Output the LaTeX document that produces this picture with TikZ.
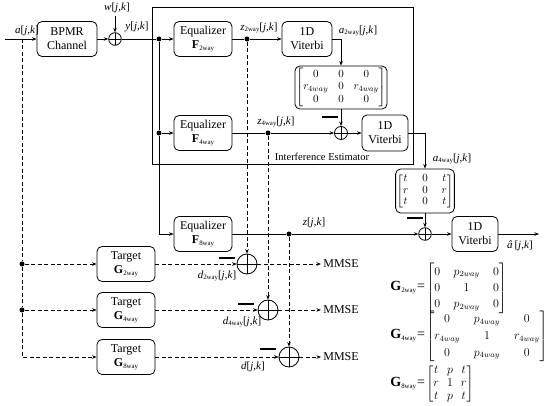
\documentclass[tikz,border=0pt]{standalone}
\usepackage{fontspec}
\setmainfont{Liberation Serif}
\usepackage{amsmath}
\usetikzlibrary{arrows.meta,calc}
\newcommand\jk{[\textit{j},\textit{k}]}
\newcommand\wy[1]{\raisebox{-0.3ex}{\fontsize{6.8}{7}\selectfont #1way}}
\begin{document}
\begin{tikzpicture}[x=1pt,y=-1pt,line width=0.8pt,
  every node/.style={font=\fontsize{12}{14}\selectfont},
  arr/.style={-{Stealth[length=4.5pt,width=3.5pt]}},
  dsh/.style={dash pattern=on 4pt off 2.5pt},
  blk/.style={draw,rounded corners=5pt,align=center,inner sep=1pt},
  mbox/.style={draw,rounded corners=5pt,inner sep=1pt,font=\fontsize{11}{12.5}\selectfont},
  dot/.style={circle,fill,inner sep=0pt,minimum size=5pt},
  sumc/.style={draw,circle,inner sep=0pt,minimum size=#1,
    path picture={\draw[line width=0.8pt] (path picture bounding box.north) -- (path picture bounding box.south)
      (path picture bounding box.west) -- (path picture bounding box.east);}},
  lbl/.style={inner sep=0pt,font=\fontsize{11}{12}\selectfont},
  geq/.style={anchor=west,inner sep=0pt,font=\fontsize{14}{16}\selectfont},
  minusbar/.style={line width=2.4pt}]
\useasboundingbox (0,0) rectangle (550,406);

% interference estimator frame
\draw (152,7) rectangle (413,164);
\node[lbl,font=\fontsize{10.5}{12}\selectfont] (iel) at (322,157) {Interference Estimator};

% top row
\coordinate (in) at (5,39);
\coordinate (ain) at (22,39);
\node[lbl] (al) at (27,31) {\textit{a}\jk};
\node[blk,minimum width=60,minimum height=35] (bpmr) at (67,39) {BPMR\\Channel};
\node[sumc=12.6] (s1) at (115,39) {};
\coordinate (wtop) at (115,16);
\node[lbl] (wl) at (117,8) {\textit{w}\jk};
\node[lbl] (yl) at (137,27) {\textit{y}\jk};
\node[dot] (d0) at (159,39) {};
\node[blk,minimum width=58,minimum height=35] (eq2) at (203,39) {Equalizer\\\textbf{F}\wy{2}};
\node[dot] (dz2) at (247,39) {};
\node[lbl] (z2l) at (259,28) {\textit{z}\wy{2}\jk};
\node[blk,minimum width=50,minimum height=35] (vit1) at (307,39) {1D\\Viterbi};
\coordinate (c1) at (341,39);
\node[lbl] (a2l) at (358,31) {\textit{a}\wy{2}\jk};
\node[mbox,minimum width=90,minimum height=43] (m1) at (341,87.5)
  {$\begin{bmatrix}0&0&0\\ r_{4way}&0&r_{4way}\\ 0&0&0\end{bmatrix}$};

% second row
\node[dot] (d1) at (159,133) {};
\node[blk,minimum width=58,minimum height=35] (eq4) at (203,133) {Equalizer\\\textbf{F}\wy{4}};
\node[dot] (dz4) at (268,133) {};
\node[lbl] (z4l) at (276,122) {\textit{z}\wy{4}\jk};
\node[sumc=13] (s2) at (341,133) {};
\node[blk,minimum width=46,minimum height=36] (vit2) at (385,133) {1D\\Viterbi};
\coordinate (c2) at (425,133);
\node[lbl] (a4l) at (452,159) {\textit{a}\wy{4}\jk};
\node[mbox,minimum width=57,minimum height=44] (m2) at (425,191)
  {$\setlength\arraycolsep{7pt}\renewcommand\arraystretch{0.9}\begin{bmatrix}t&0&t\\ r&0&r\\ t&0&t\end{bmatrix}$};

% third row
\coordinate (c3) at (159,234);
\node[blk,minimum width=58,minimum height=35] (eq8) at (203,234) {Equalizer\\\textbf{F}\wy{8}};
\node[dot] (dz) at (289,234) {};
\node[lbl] (zl) at (314,223) {\textit{z}\jk};
\node[sumc=12.6] (s3) at (425,234) {};
\node[blk,minimum width=46,minimum height=35] (vit3) at (475,234) {1D\\Viterbi};
\coordinate (out) at (539,234);
\node[lbl] (ahl) at (520,246) {\textit{â}\,\jk};

% targets
\node[dot] (ld2) at (22,264) {};
\node[dot] (ld4) at (22,310) {};
\coordinate (lc) at (22,357);
\node[blk,minimum width=58,minimum height=35] (tg2) at (126,264) {Target\\\textbf{G}\wy{2}};
\node[blk,minimum width=58,minimum height=35] (tg4) at (126,310) {Target\\\textbf{G}\wy{4}};
\node[blk,minimum width=58,minimum height=35] (tg8) at (126,357) {Target\\\textbf{G}\wy{8}};
\node[sumc=20] (sd2) at (247,264) {};
\node[sumc=20] (sd4) at (268,310) {};
\node[sumc=20] (sd8) at (289,357) {};
\node[lbl] (d2l) at (217,276) {\textit{d}\wy{2}\jk};
\node[lbl] (d4l) at (242,322) {\textit{d}\wy{4}\jk};
\node[lbl] (dl) at (253,367) {\textit{d}\jk};
\node[anchor=west,inner sep=2pt] (mm1) at (321,264) {MMSE};
\node[anchor=west,inner sep=2pt] (mm2) at (321,310) {MMSE};
\node[anchor=west,inner sep=2pt] (mm3) at (321,357) {MMSE};

% equations
\node[geq] (g2) at (390,288)
  {\textbf{G}\wy{2}\hspace{1pt}=\hspace{1.5pt}\fontsize{12}{14}\selectfont$\setlength\arraycolsep{6.7pt}\renewcommand\arraystretch{1.15}\begin{bmatrix}0&p_{2way}&0\\ 0&1&0\\ 0&p_{2way}&0\end{bmatrix}$};
\node[geq] (g4) at (390,336)
  {\textbf{G}\wy{4}\hspace{1pt}=\hspace{1.5pt}\fontsize{12}{14}\selectfont$\setlength\arraycolsep{7.1pt}\renewcommand\arraystretch{1.2}\begin{bmatrix}0&p_{4way}&0\\ r_{4way}&1&r_{4way}\\ 0&p_{4way}&0\end{bmatrix}$};
\node[geq] (g8) at (390,384)
  {\textbf{G}\wy{8}\hspace{1pt}=\hspace{1.5pt}\fontsize{12}{14}\selectfont$\setlength\arraycolsep{4pt}\renewcommand\arraystretch{0.9}\begin{bmatrix}t&p&t\\ r&1&r\\ t&p&t\end{bmatrix}$};

% solid connectors
\draw[arr] (in) -- (bpmr);
\draw[arr] (bpmr) -- (s1);
\draw[arr] (wtop) -- (s1);
\draw (s1) -- (d0);
\draw[arr] (d0) -- (eq2);
\draw (eq2) -- (dz2);
\draw[arr] (dz2) -- (vit1);
\draw[arr] (vit1.east) -- (c1) -- (m1.north);
\draw[arr] (m1) -- (s2);
\draw (d0) -- (d1);
\draw[arr] (d1) -- (eq4);
\draw[arr] (d1) -- (c3) -- (eq8.west);
\draw (eq4) -- (dz4);
\draw[arr] (dz4) -- (s2);
\draw[arr] (s2) -- (vit2);
\draw[arr] (vit2.east) -- (c2) -- (m2.north);
\draw[arr] (m2) -- (s3);
\draw (eq8) -- (dz);
\draw[arr] (dz) -- (s3);
\draw[arr] (s3) -- (vit3);
\draw[arr] (vit3) -- (out);

% dashed connectors
\draw[dsh] (ain) -- (ld2) -- (ld4);
\draw[dsh,arr] (ld4) -- (lc) -- (tg8.west);
\draw[dsh,arr] (ld2) -- (tg2);
\draw[dsh,arr] (ld4) -- (tg4);
\draw[dsh,arr] (tg2) -- (sd2);
\draw[dsh,arr] (tg4) -- (sd4);
\draw[dsh,arr] (tg8) -- (sd8);
\draw[dsh,arr] (dz2) -- (sd2);
\draw[dsh,arr] (dz4) -- (sd4);
\draw[dsh,arr] (dz) -- (sd8);
\draw[dsh,arr] (sd2) -- (mm1);
\draw[dsh,arr] (sd4) -- (mm2);
\draw[dsh,arr] (sd8) -- (mm3);

% minus signs
\draw[minusbar] (322,117) -- (338,117);
\draw[minusbar] (407,218) -- (423,218);
\draw[minusbar] (219,258) -- (235,258);
\draw[minusbar] (238,304) -- (254,304);
\draw[minusbar] (260,349) -- (276,349);
\end{tikzpicture}
\end{document}
